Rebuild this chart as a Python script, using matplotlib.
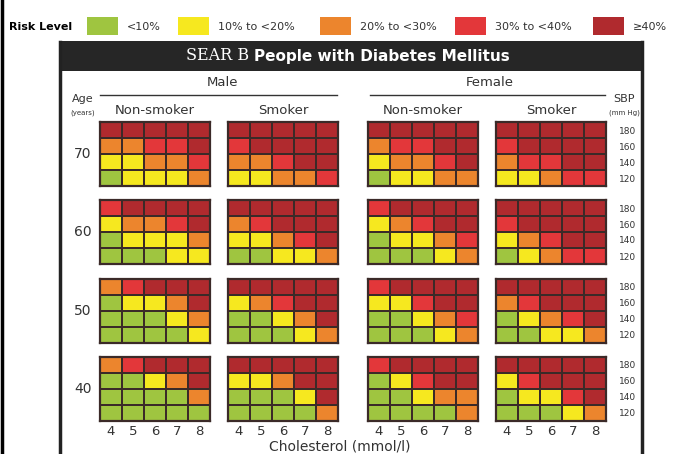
"""
WHO/ISH risk chart - SEAR B, people with diabetes mellitus
"""

import matplotlib
import matplotlib.pyplot as plt
from matplotlib.colors import ListedColormap, BoundaryNorm
from matplotlib.patches import Rectangle
import numpy as np

matplotlib.use('Agg')

plt.rcParams['font.family'] = ['Liberation Sans Narrow', 'DejaVu Sans']

W, H = 680, 454

# Risk levels: 0 <10%, 1 10-20%, 2 20-30%, 3 30-40%, 4 >=40%
# rows are SBP 180, 160, 140, 120 ; columns cholesterol 4..8
risk_labels = ['<10%', '10% to <20%', '20% to <30%', '30% to <40%', '≥40%']
risk_colors = ['#9fc540', '#f6e81f', '#ec852d', '#e3373a', '#b02a2e']
ages = [70, 60, 50, 40]
sbp_values = [180, 160, 140, 120]
cholesterol = [4, 5, 6, 7, 8]

male_nonsmoker = {
    70: [[4, 4, 4, 4, 4], [2, 2, 3, 3, 4], [1, 1, 2, 2, 3], [0, 1, 1, 1, 2]],
    60: [[3, 4, 4, 4, 4], [1, 2, 2, 3, 4], [0, 1, 1, 1, 2], [0, 0, 0, 1, 1]],
    50: [[2, 3, 4, 4, 4], [0, 1, 1, 2, 4], [0, 0, 0, 1, 2], [0, 0, 0, 0, 1]],
    40: [[2, 3, 4, 4, 4], [0, 0, 1, 2, 4], [0, 0, 0, 0, 2], [0, 0, 0, 0, 0]],
}
male_smoker = {
    70: [[4, 4, 4, 4, 4], [3, 4, 4, 4, 4], [2, 2, 3, 4, 4], [1, 1, 2, 2, 3]],
    60: [[4, 4, 4, 4, 4], [2, 3, 4, 4, 4], [1, 1, 2, 3, 4], [0, 0, 1, 1, 2]],
    50: [[4, 4, 4, 4, 4], [1, 2, 3, 4, 4], [0, 0, 1, 2, 4], [0, 0, 0, 1, 2]],
    40: [[4, 4, 4, 4, 4], [1, 1, 2, 4, 4], [0, 0, 0, 1, 4], [0, 0, 0, 0, 2]],
}
female_nonsmoker = {
    70: [[4, 4, 4, 4, 4], [2, 3, 3, 4, 4], [1, 2, 2, 3, 4], [0, 1, 1, 2, 2]],
    60: [[3, 4, 4, 4, 4], [1, 2, 3, 4, 4], [0, 1, 1, 2, 3], [0, 0, 0, 1, 2]],
    50: [[3, 4, 4, 4, 4], [1, 1, 3, 4, 4], [0, 0, 1, 2, 3], [0, 0, 0, 1, 2]],
    40: [[3, 4, 4, 4, 4], [0, 1, 3, 4, 4], [0, 0, 1, 2, 2], [0, 0, 0, 0, 2]],
}
female_smoker = {
    70: [[4, 4, 4, 4, 4], [3, 4, 4, 4, 4], [2, 3, 3, 4, 4], [1, 1, 2, 3, 3]],
    60: [[4, 4, 4, 4, 4], [3, 4, 4, 4, 4], [1, 2, 3, 4, 4], [0, 1, 2, 3, 3]],
    50: [[4, 4, 4, 4, 4], [2, 3, 4, 4, 4], [0, 1, 2, 3, 4], [0, 0, 1, 1, 2]],
    40: [[4, 4, 4, 4, 4], [1, 3, 4, 4, 4], [0, 1, 1, 3, 4], [0, 0, 0, 1, 2]],
}
panels = [male_nonsmoker, male_smoker, female_nonsmoker, female_smoker]

cmap = ListedColormap(risk_colors)
norm = BoundaryNorm(np.arange(-0.5, 5.5, 1), cmap.N)
EDGE = '#3b2a28'
TXT = '#333333'

fig = plt.figure(figsize=(W / 100, H / 100), dpi=100)
fig.patch.set_facecolor('white')

# background axes in pixel coordinates for text/frames
bg = fig.add_axes([0, 0, 1, 1])
bg.set_xlim(0, W)
bg.set_ylim(H, 0)
bg.axis('off')


def px_axes(x0, y0, x1, y1):
    return fig.add_axes([x0 / W, 1 - y1 / H, (x1 - x0) / W, (y1 - y0) / H])


# frame lines
bg.plot([1.5, 1.5], [0, H], color='black', lw=2.5)
bg.plot([60, 60], [42, H], color='#222222', lw=2.5)
bg.plot([642, 642], [42, H], color='#222222', lw=2.5)

# legend row
bg.text(9, 27, 'Risk Level', fontsize=8, fontweight='bold', va='center', ha='left')
leg_x = [87, 178, 320, 455, 593]
for lx, col, lab in zip(leg_x, risk_colors, risk_labels):
    bg.add_patch(Rectangle((lx, 17), 31, 18, color=col, lw=0))
    bg.text(lx + 40, 27, lab, fontsize=8, va='center', ha='left', color=TXT)

# header
bg.add_patch(Rectangle((59, 41), 584, 30, color='#262626', lw=0))
bg.text(249, 56, 'SEAR B', fontsize=11.5, family='DejaVu Serif', color='white',
        va='center', ha='right')
bg.text(254, 56, 'People with Diabetes Mellitus', fontsize=11, fontweight='bold',
        color='white', va='center', ha='left')

# sex headings
bg.text(222, 82, 'Male', fontsize=9.5, ha='center', va='center', color=TXT)
bg.text(490, 82, 'Female', fontsize=9.5, ha='center', va='center', color=TXT)
bg.plot([100, 337], [95, 95], color=TXT, lw=1)
bg.plot([370, 605], [95, 95], color=TXT, lw=1)
bg.text(83, 99, 'Age', fontsize=8, ha='center', va='center', color=TXT)
bg.text(83, 113, '(years)', fontsize=5, ha='center', va='center', color=TXT)
bg.text(624, 99, 'SBP', fontsize=8, ha='center', va='center', color=TXT)
bg.text(624, 113, '(mm Hg)', fontsize=5, ha='center', va='center', color=TXT)

grid_x = [(100, 210), (228, 338), (368, 478), (496, 606)]
grid_y = [(122, 186), (200, 264), (279, 343), (357, 421)]
sub_titles = ['Non-smoker', 'Smoker', 'Non-smoker', 'Smoker']
for (x0, x1), st in zip(grid_x, sub_titles):
    bg.text((x0 + x1) / 2, 110, st, fontsize=9.5, ha='center', va='center', color=TXT)

for r, age in enumerate(ages):
    y0, y1 = grid_y[r]
    bg.text(83, (y0 + y1) / 2, str(age), fontsize=10, ha='center', va='center',
            color=TXT)
    for c, panel in enumerate(panels):
        x0, x1 = grid_x[c]
        ax = px_axes(x0, y0, x1, y1)
        vals = np.array(panel[age])
        ax.pcolormesh(np.arange(len(cholesterol) + 1), np.arange(len(sbp_values) + 1),
                      vals[::-1], cmap=cmap, norm=norm, edgecolors=EDGE, linewidth=1.4)
        ax.set_xlim(0, len(cholesterol))
        ax.set_ylim(0, len(sbp_values))
        ax.set_xticks([])
        ax.set_yticks([])
        for sp in ax.spines.values():
            sp.set_color(EDGE)
            sp.set_linewidth(1.6)
        if r == len(ages) - 1:
            ax.set_xticks(np.arange(len(cholesterol)) + 0.5)
            ax.set_xticklabels([str(v) for v in cholesterol], fontsize=9.5, color=TXT)
            ax.tick_params(axis='x', length=0, pad=3)
        if c == len(panels) - 1:
            ax.yaxis.tick_right()
            ax.set_yticks(np.arange(len(sbp_values)) + 0.5)
            ax.set_yticklabels([str(v) for v in sbp_values[::-1]], fontsize=6.5,
                               color=TXT)
            ax.tick_params(axis='y', length=0, pad=9)

bg.text(340, 446, 'Cholesterol (mmol/l)', fontsize=10, ha='center', va='center',
        color=TXT)

fig.savefig('out.png', dpi=100, facecolor='white')
